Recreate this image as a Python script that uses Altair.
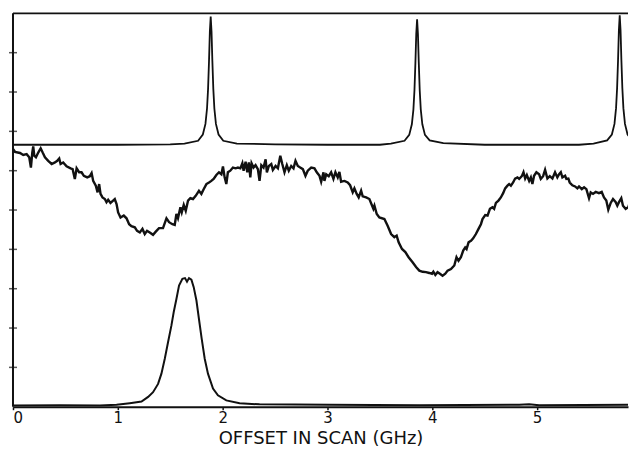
import altair as alt
import pandas as pd

# ---- data (x: GHz offset, y: arbitrary units, 10 = top frame) ----
top_x = [0.0, 0.5, 1.0, 1.5,
         1.636, 1.766, 1.811, 1.836, 1.851, 1.861, 1.870, 1.878, 1.886,
         1.894, 1.902, 1.911, 1.921, 1.936, 1.961, 2.006, 2.136,
         2.5, 3.0, 3.5,
         3.605, 3.735, 3.780, 3.805, 3.820, 3.830, 3.839, 3.847, 3.855,
         3.863, 3.871, 3.880, 3.890, 3.905, 3.930, 3.975, 4.105,
         4.5, 5.0, 5.4,
         5.538, 5.668, 5.713, 5.738, 5.753, 5.763, 5.772, 5.780, 5.788,
         5.796, 5.804, 5.813, 5.823, 5.838, 5.863, 5.908, 5.943]
top_y = [6.66, 6.66, 6.66, 6.67,
         6.69, 6.76, 6.92, 7.19, 7.58, 8.08, 8.79, 9.54, 9.92,
         9.54, 8.79, 8.08, 7.58, 7.19, 6.92, 6.76, 6.69,
         6.67, 6.66, 6.66,
         6.69, 6.76, 6.91, 7.18, 7.56, 8.05, 8.75, 9.48, 9.85,
         9.48, 8.75, 8.05, 7.56, 7.18, 6.91, 6.77, 6.70,
         6.66, 6.66, 6.66,
         6.69, 6.77, 6.92, 7.19, 7.59, 8.10, 8.81, 9.57, 9.95,
         9.57, 8.81, 8.10, 7.59, 7.19, 6.92, 6.77, 6.73]

mid_x = [0.0, 0.019, 0.067, 0.098, 0.130, 0.155, 0.171, 0.184, 0.193, 0.203,
         0.219, 0.241, 0.264, 0.283, 0.305, 0.336, 0.369, 0.400, 0.422, 0.441,
         0.454, 0.479, 0.511, 0.550, 0.569, 0.590, 0.607, 0.631, 0.654, 0.676,
         0.708, 0.733, 0.750, 0.765, 0.790, 0.807, 0.822, 0.835, 0.854, 0.876,
         0.892, 0.908, 0.930, 0.955, 0.971, 0.988, 1.003, 1.026, 1.057, 1.083,
         1.108, 1.130, 1.162, 1.184, 1.210, 1.235, 1.257, 1.279, 1.305, 1.336,
         1.362, 1.393, 1.431, 1.464, 1.489, 1.521, 1.543, 1.559, 1.574, 1.597,
         1.610, 1.629, 1.648, 1.670, 1.692, 1.717, 1.743, 1.774, 1.797, 1.819,
         1.845, 1.870, 1.892, 1.914, 1.940, 1.965, 1.988, 2.003, 2.019, 2.035,
         2.050, 2.073, 2.098, 2.124, 2.146, 2.169, 2.188, 2.200, 2.219, 2.235,
         2.250, 2.264, 2.276, 2.295, 2.314, 2.336, 2.352, 2.369, 2.390, 2.410,
         2.422, 2.441, 2.464, 2.479, 2.505, 2.527, 2.550, 2.569, 2.590, 2.612,
         2.631, 2.654, 2.676, 2.695, 2.717, 2.740, 2.765, 2.790, 2.812, 2.845,
         2.876, 2.898, 2.924, 2.940, 2.962, 2.971, 2.988, 3.012, 3.035, 3.057,
         3.076, 3.098, 3.114, 3.130, 3.162, 3.193, 3.216, 3.241, 3.257, 3.279,
         3.298, 3.321, 3.336, 3.369, 3.400, 3.426, 3.438, 3.448, 3.470, 3.495,
         3.543, 3.574, 3.607, 3.638, 3.660, 3.679, 3.711, 3.743, 3.774, 3.812,
         3.845, 3.876, 3.908, 3.940, 3.971, 3.997, 4.010, 4.029, 4.050, 4.073,
         4.098, 4.124, 4.146, 4.178, 4.210, 4.231, 4.250, 4.273, 4.295, 4.314,
         4.327, 4.346, 4.369, 4.390, 4.416, 4.441, 4.464, 4.479, 4.505, 4.527,
         4.550, 4.574, 4.590, 4.607, 4.631, 4.654, 4.676, 4.695, 4.717, 4.733,
         4.750, 4.771, 4.790, 4.812, 4.829, 4.854, 4.870, 4.886, 4.902, 4.924,
         4.940, 4.955, 4.971, 4.993, 5.019, 5.035, 5.057, 5.076, 5.098, 5.121,
         5.146, 5.171, 5.193, 5.210, 5.226, 5.241, 5.267, 5.279, 5.298, 5.311,
         5.336, 5.362, 5.384, 5.400, 5.426, 5.448, 5.470, 5.495, 5.511, 5.533,
         5.559, 5.590, 5.616, 5.638, 5.660, 5.679, 5.702, 5.724, 5.750, 5.765,
         5.781, 5.803, 5.819, 5.845, 5.870, 5.892, 5.914, 5.926, 5.943]
mid_y = [6.55, 6.48, 6.45, 6.40, 6.42, 6.34, 6.08, 6.46, 6.62, 6.38,
         6.34, 6.46, 6.57, 6.46, 6.34, 6.25, 6.17, 6.21, 6.25, 6.31,
         6.17, 6.21, 6.11, 6.06, 6.04, 5.79, 6.06, 5.96, 5.96, 5.87,
         5.83, 5.86, 5.94, 5.74, 5.62, 5.45, 5.66, 5.41, 5.32, 5.28,
         5.20, 5.26, 5.18, 5.24, 5.28, 5.15, 4.94, 4.81, 4.86, 4.79,
         4.64, 4.59, 4.56, 4.47, 4.43, 4.52, 4.39, 4.47, 4.43, 4.37,
         4.45, 4.54, 4.54, 4.79, 4.69, 4.64, 4.62, 4.90, 4.79, 5.07,
         4.94, 5.13, 4.98, 5.24, 5.30, 5.28, 5.36, 5.49, 5.41, 5.53,
         5.66, 5.70, 5.74, 5.79, 5.89, 5.96, 5.91, 6.11, 5.83, 5.66,
         5.96, 6.00, 6.08, 6.06, 6.08, 6.06, 6.19, 6.00, 6.23, 5.96,
         6.21, 5.83, 6.19, 6.08, 6.14, 6.04, 5.74, 6.14, 6.08, 6.29,
         5.96, 6.12, 6.17, 6.02, 6.12, 6.06, 6.38, 6.17, 5.96, 6.14,
         6.00, 6.12, 6.06, 6.25, 6.12, 6.08, 6.04, 5.87, 6.00, 6.08,
         6.06, 5.96, 5.87, 5.72, 5.96, 5.74, 5.91, 5.86, 5.96, 5.79,
         5.96, 5.83, 5.97, 5.72, 5.74, 5.70, 5.63, 5.45, 5.55, 5.41,
         5.32, 5.49, 5.35, 5.32, 5.28, 5.11, 5.03, 5.11, 4.90, 4.81,
         4.77, 4.60, 4.39, 4.31, 4.35, 4.18, 4.01, 3.93, 3.80, 3.67,
         3.55, 3.46, 3.43, 3.42, 3.40, 3.38, 3.43, 3.35, 3.42, 3.38,
         3.33, 3.38, 3.46, 3.50, 3.59, 3.80, 3.71, 3.80, 3.97, 4.05,
         4.01, 4.18, 4.22, 4.28, 4.39, 4.52, 4.64, 4.77, 4.87, 4.86,
         5.03, 5.07, 5.03, 5.18, 5.24, 5.32, 5.43, 5.55, 5.62, 5.66,
         5.62, 5.70, 5.80, 5.83, 5.79, 5.86, 5.96, 5.80, 5.89, 5.74,
         5.83, 5.66, 5.87, 5.96, 5.91, 5.79, 5.86, 6.02, 5.80, 5.86,
         5.80, 5.96, 5.83, 5.91, 5.96, 5.83, 5.87, 5.79, 5.80, 5.70,
         5.63, 5.60, 5.55, 5.60, 5.53, 5.58, 5.53, 5.30, 5.45, 5.41,
         5.46, 5.43, 5.46, 5.32, 5.24, 5.01, 5.18, 5.28, 5.20, 5.11,
         5.20, 5.30, 5.11, 5.03, 5.07, 5.28, 5.38, 5.62, 5.58]

bot_x = [0.0, 0.448, 0.829, 0.988, 1.114, 1.226, 1.289, 1.336, 1.384, 1.416,
         1.448, 1.479, 1.511, 1.533, 1.559, 1.584, 1.616, 1.641, 1.660, 1.679,
         1.702, 1.724, 1.750, 1.774, 1.800, 1.829, 1.860, 1.908, 1.955, 2.035,
         2.162, 2.352, 3.019, 3.876, 4.829, 4.924, 5.019, 5.943]
bot_y = [0.03, 0.04, 0.03, 0.05, 0.09, 0.13, 0.25, 0.37, 0.58, 0.84,
         1.22, 1.64, 2.06, 2.40, 2.74, 3.08, 3.25, 3.27, 3.18, 3.27,
         3.23, 3.04, 2.70, 2.23, 1.73, 1.22, 0.84, 0.46, 0.29, 0.16,
         0.09, 0.06, 0.05, 0.04, 0.05, 0.06, 0.04, 0.05]

x_ticks = [0, 1, 2, 3, 4, 5]
y_ticks = [1, 2, 3, 4, 5, 6, 7, 8, 9]
x_domain = [0, 5.867]   # the reference is cropped just before 6 GHz
y_domain = [0, 10]

top_df = pd.DataFrame({"x": top_x, "y": top_y})
mid_df = pd.DataFrame({"x": mid_x, "y": mid_y})
bot_df = pd.DataFrame({"x": bot_x, "y": bot_y})
ytick_df = pd.DataFrame({"x": [x_domain[0]] * len(y_ticks), "y": y_ticks})
frame_df = pd.DataFrame({"x": [x_domain[0]], "y": [y_domain[1]]})

INK = "#111111"
FONT = "DejaVu Sans"

xs = alt.Scale(domain=x_domain, nice=False, zero=False)
ys = alt.Scale(domain=y_domain, nice=False, zero=False)

x_axis = alt.Axis(
    values=x_ticks, format="d", orient="bottom", grid=False,
    domainColor=INK, domainWidth=2, tickColor=INK, tickWidth=1.5, tickSize=3,
    labelFont=FONT, labelFontSize=15, labelColor=INK, labelPadding=1,
    labelFlush=True,
    title="OFFSET IN SCAN (GHz)", titleFont=FONT, titleFontSize=18,
    titleFontWeight="normal", titleColor=INK, titlePadding=4,
)


def X():
    return alt.X("x:Q", scale=xs, axis=x_axis)


def Y():
    return alt.Y("y:Q", scale=ys, axis=None)


mid = alt.Chart(mid_df).mark_line(color=INK, strokeWidth=2.4, clip=True).encode(
    x=X(), y=Y(), order="x:Q")
top = alt.Chart(top_df).mark_line(color=INK, strokeWidth=1.8, clip=True).encode(
    x=X(), y=Y(), order="x:Q")
bot = alt.Chart(bot_df).mark_line(color=INK, strokeWidth=2.0, clip=True).encode(
    x=X(), y=Y(), order="x:Q")
left_frame = alt.Chart(frame_df).mark_rule(color=INK, strokeWidth=2).encode(x=X())
top_frame = alt.Chart(frame_df).mark_rule(color=INK, strokeWidth=1.8).encode(y=Y())
yt = alt.Chart(ytick_df).mark_tick(
    color=INK, orient="horizontal", size=8, thickness=1.5).encode(x=X(), y=Y())

chart = alt.layer(mid, top, bot, left_frame, top_frame, yt).properties(
    width=616, height=394,
    padding={"left": 1, "top": 4, "right": 0, "bottom": 0},
    background="white",
).configure_view(stroke=None).configure_axis(minExtent=0)

chart.save("out.html", embed_options={"renderer": "svg", "actions": False})
